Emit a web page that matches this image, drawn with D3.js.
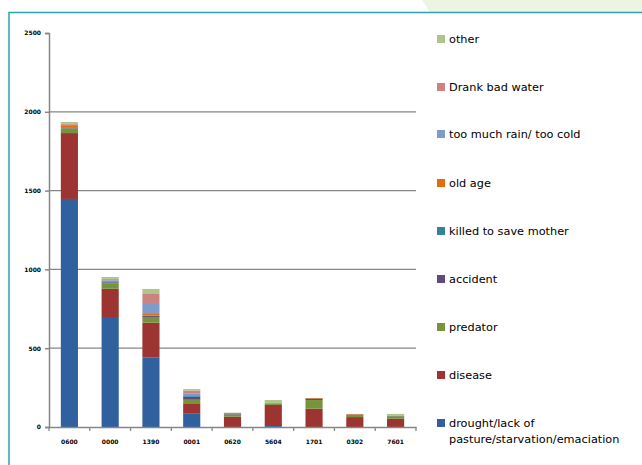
<!DOCTYPE html>
<head>
  <meta charset="UTF-8">
  <title>causes</title>
  <style>
  body, html, div, svg{
    padding: 0;
    margin: 0;
  }
  body{
    background: #fff;
  }
  text{
    font-family: "DejaVu Sans", sans-serif;
  }
  </style>
</head>
<body>
  <script src="https://cdn.jsdelivr.net/npm/d3@7"></script>
  <script type="text/javascript">
  // categories (x labels as shown)
  var years = ['0600', '0000', '1390', '0001', '0620', '5604', '1701', '0302', '7601'];

  // series, bottom to top of the stack
  var causes = ['drought/lack of pasture/starvation/emaciation', 'disease', 'predator', 'accident',
    'killed to save mother', 'old age', 'too much rain/ too cold', 'Drank bad water', 'other'];
  var colors = ['#31609e', '#9c3431', '#77933c', '#604a7b', '#31849b', '#e46c0a', '#7f9bc8', '#cc8380', '#adc48a'];

  var drought  = [1447, 698, 442, 84, 0, 6, 0, 0, 0];
  var disease  = [418, 179, 220, 62, 65, 134, 116, 63, 52];
  var predator = [30, 35, 36, 27, 15, 8, 55, 13, 16];
  var accident = [5, 6, 6, 19, 6, 2, 10, 3, 3];
  var killed   = [3, 3, 3, 6, 0, 0, 0, 0, 0];
  var oldage   = [7, 8, 10, 5, 3, 3, 3, 3, 0];
  var rain     = [8, 5, 70, 8, 0, 0, 0, 0, 0];
  var drank    = [5, 6, 57, 20, 0, 0, 0, 0, 0];
  var other    = [12, 12, 32, 10, 2, 18, 0, 0, 12];

  var yTicks = [0, 500, 1000, 1500, 2000, 2500];

  var series = [drought, disease, predator, accident, killed, oldage, rain, drank, other];
  var rows = years.map(function(y, i) {
    var r = {year: y};
    causes.forEach(function(c, j) { r[c] = series[j][i]; });
    return r;
  });

  var width = 642, height = 465;
  var svg = d3.select('body').append('svg')
    .attr('width', width)
    .attr('height', height);

  // frame
  svg.append('path')
    .attr('d', 'M422,0 L642,0 L642,12 L430,12 Z')
    .attr('fill', '#ebf5e1');
  svg.append('path')
    .attr('d', 'M9,' + height + ' L9,12.5 L' + width + ',12.5')
    .attr('fill', 'none')
    .attr('stroke', '#2ba3ab')
    .attr('stroke-width', 1.5);

  var pLeft = 49, pRight = 416, pTop = 33, pBottom = 427;

  var x = d3.scaleBand().domain(years).range([pLeft, pRight]).paddingInner(0.58).paddingOuter(0.29);
  var y = d3.scaleLinear().domain([0, 2500]).range([pBottom, pTop]);

  //网格线
  svg.selectAll('.grid')
    .data(yTicks.filter(function(t) { return t > 0 && t < 2500; }))
    .enter()
    .append('line')
    .attr('x1', pLeft)
    .attr('x2', pRight)
    .attr('y1', function(d) { return y(d); })
    .attr('y2', function(d) { return y(d); })
    .attr('stroke', '#868686')
    .attr('stroke-width', 1.3);

  //堆叠柱
  var stack = d3.stack().keys(causes);
  var layers = stack(rows);

  svg.selectAll('.layer')
    .data(layers)
    .enter()
    .append('g')
    .attr('fill', function(d, i) { return colors[i]; })
    .selectAll('rect')
    .data(function(d) { return d; })
    .enter()
    .append('rect')
    .attr('x', function(d) { return x(d.data.year); })
    .attr('width', x.bandwidth())
    .attr('y', function(d) { return y(d[1]); })
    .attr('height', function(d) { return y(d[0]) - y(d[1]); });

  //坐标轴
  var yAxis = svg.append('g')
    .attr('transform', 'translate(' + pLeft + ',0)')
    .call(d3.axisLeft(y).tickValues(yTicks).tickFormat(d3.format('d')).tickSize(4).tickPadding(4));
  yAxis.selectAll('text').attr('font-size', 6).attr('fill', '#000').style('font-weight', 'bold');

  var xAxis = svg.append('g')
    .attr('transform', 'translate(0,' + pBottom + ')')
    .call(d3.axisBottom(x).tickSize(0).tickPadding(13));
  xAxis.selectAll('text').attr('font-size', 6).attr('fill', '#000').style('font-weight', 'bold');

  // ticks between categories
  svg.selectAll('.xtick')
    .data(d3.range(years.length + 1))
    .enter()
    .append('line')
    .attr('x1', function(i) { return pLeft + i * (pRight - pLeft) / years.length; })
    .attr('x2', function(i) { return pLeft + i * (pRight - pLeft) / years.length; })
    .attr('y1', pBottom)
    .attr('y2', pBottom + 4)
    .attr('stroke', '#868686')
    .attr('stroke-width', 1.3);

  svg.selectAll('.domain, .tick line')
    .attr('stroke', '#868686')
    .attr('stroke-width', 1.5);

  //图例
  var legendTop = [39, 87, 134, 183, 231, 279, 327, 375, 423];
  var order = causes.slice().reverse();
  var legend = svg.selectAll('.legend')
    .data(order)
    .enter()
    .append('g')
    .attr('transform', function(d, i) { return 'translate(437,' + legendTop[i] + ')'; });

  legend.append('rect')
    .attr('width', 8)
    .attr('height', 8)
    .attr('y', -4)
    .attr('fill', function(d, i) { return colors[colors.length - 1 - i]; });

  legend.append('text')
    .attr('x', 12)
    .attr('y', 4)
    .attr('font-size', 11.3)
    .attr('fill', '#000')
    .each(function(d) {
      var parts = d.indexOf('drought') === 0 ? ['drought/lack of', 'pasture/starvation/emaciation'] : [d];
      var t = d3.select(this);
      parts.forEach(function(p, k) {
        t.append('tspan').attr('x', 12).attr('dy', k ? 16 : 0).text(p);
      });
    });
  </script>
</body>
</html>
